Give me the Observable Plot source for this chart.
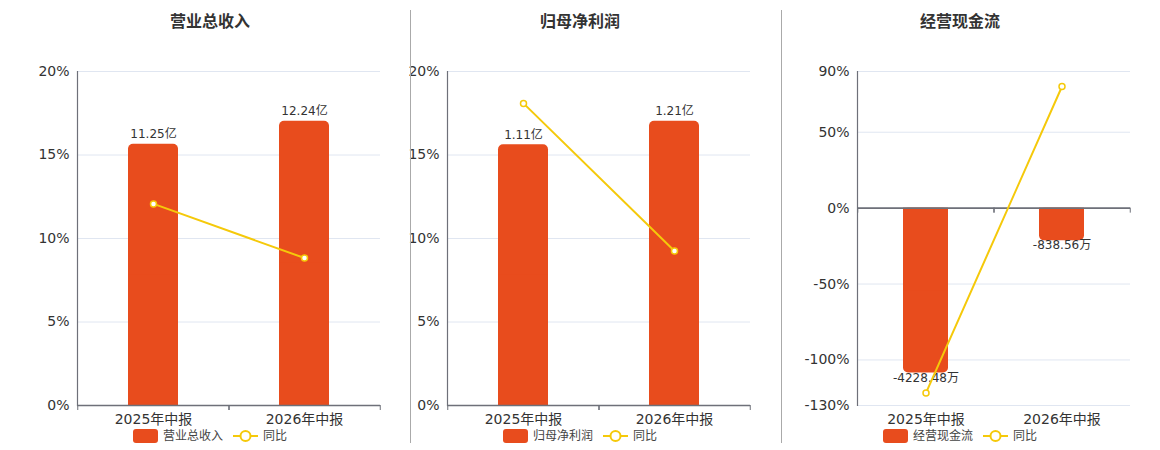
<!DOCTYPE html>
<html>
<head>
<meta charset="utf-8">
<script src="https://cdn.jsdelivr.net/npm/d3@7"></script>
<script src="https://cdn.jsdelivr.net/npm/@observablehq/plot@0.6"></script>
<style>
  html, body { margin: 0; padding: 0; background: #fff; }
  #root { position: relative; width: 1160px; height: 450px; overflow: hidden;
          font-family: "DejaVu Sans", "Noto Sans CJK SC", sans-serif; }
  .title { position: absolute; top: 12px; text-align: center; font-size: 16px; font-weight: bold;
           color: #333; line-height: 20px; }
  .legend { position: absolute; top: 428px; display: flex; justify-content: center; align-items: center;
            font-size: 12px; color: #444; line-height: 16px; }
  .legend .item { display: flex; align-items: center; margin: 0 5px; }
  .legend .sw { width: 25px; height: 14px; border-radius: 3px; margin-right: 5px; }
  .legend svg { margin-right: 5px; }
  .sep { position: absolute; top: 10px; width: 1px; height: 433px; background: #aaa; }
  .panel-svg { position: absolute; top: 40px; }
</style>
</head>
<body>
<div id="root"></div>
<script>
// ---- data ----
const periods = ["2025年中报", "2026年中报"];
const titles = ["营业总收入", "归母净利润", "经营现金流"];
const revenue = [11.25, 12.24];          // 亿
const netProfit = [1.11, 1.21];          // 亿
const cashFlow = [-4228.48, -838.56];    // 万
const revenueYoy = [12.07, 8.83];        // %
const netProfitYoy = [18.09, 9.25];      // %
const cashFlowYoy = [-121.7, 80.1];      // %
const units = ["亿", "亿", "万"];
// left (同比) axis
const pctDomains = [[0, 20], [0, 20], [-130, 90]];
const pctTicks = [[0, 5, 10, 15, 20], [0, 5, 10, 15, 20], [-130, -100, -50, 0, 50, 90]];
// hidden secondary (bar value) axis domains
const barDomains = [[0, 14.38], [0, 1.422], [-5062, 3506]];

const BAR = "#e84c1d";
const GOLD = "#f5c90a";
const FONT = '"DejaVu Sans", "Noto Sans CJK SC", sans-serif';

const panels = [
  {bars: revenue, yoy: revenueYoy, left: 0, width: 390, boxLeft: 0, boxWidth: 420},
  {bars: netProfit, yoy: netProfitYoy, left: 370, width: 390, boxLeft: 400, boxWidth: 360},
  {bars: cashFlow, yoy: cashFlowYoy, left: 780, width: 360, boxLeft: 781, boxWidth: 358}
];

const root = document.getElementById("root");

panels.forEach((p, k) => {
  const dom = pctDomains[k], bdom = barDomains[k];
  const toPct = v => dom[0] + (v - bdom[0]) / (bdom[1] - bdom[0]) * (dom[1] - dom[0]);
  const data = periods.map((per, i) => ({
    period: per,
    value: p.bars[i],
    pct: toPct(p.bars[i]),
    yoy: p.yoy[i],
    label: p.bars[i].toFixed(2) + units[k]
  }));
  const mL = 77, mR = 10, mT = 31, mB = 30, H = 395;
  const innerW = p.width - mL - mR;
  const step = innerW / periods.length;
  const tickLen = (dom[1] - dom[0]) * 5 / (H - mT - mB);
  const fmt = d => d + "%";

  const chart = Plot.plot({
    width: p.width, height: H,
    marginLeft: mL, marginRight: mR, marginTop: mT, marginBottom: mB,
    style: {background: "transparent", fontFamily: FONT, fontSize: "14px", color: "#333", overflow: "visible"},
    x: {domain: periods, paddingInner: 0.67, paddingOuter: 0.335, label: null},
    y: {domain: dom, label: null},
    marks: [
      Plot.gridY(pctTicks[k], {stroke: "#e0e6f1", strokeOpacity: 1}),
      Plot.barY(data, {x: "period", y1: 0, y2: "pct", fill: BAR, rx: 5}),
      Plot.barY(data, {x: "period", y1: 0, y2: d => d.pct / 2, fill: BAR}),
      Plot.axisY({ticks: pctTicks[k], tickSize: 0, tickPadding: 8, tickFormat: fmt, fontSize: 14, fill: "#333", label: null}),
      Plot.axisX({tickSize: 0, tickPadding: 9, fontSize: 14, fill: "#333", label: null}),
      Plot.frame({anchor: "left", stroke: "#6e7079", strokeWidth: 1.2}),
      Plot.ruleY([0], {stroke: "#6e7079", strokeWidth: 1.6}),
      Plot.ruleX(periods, {x: d => d, y1: 0, y2: -tickLen, dx: -step / 2, stroke: "#6e7079"}),
      Plot.ruleX(periods, {x: d => d, y1: 0, y2: -tickLen, dx: step / 2, stroke: "#6e7079"}),
      Plot.text(data.filter(d => d.value >= 0), {x: "period", y: "pct", text: "label", lineAnchor: "bottom", dy: -6, fontSize: 12, fill: "#333"}),
      Plot.text(data.filter(d => d.value < 0), {x: "period", y: "pct", text: "label", lineAnchor: "top", dy: 0, fontSize: 12, fill: "#333"}),
      Plot.line(data, {x: "period", y: "yoy", stroke: GOLD, strokeWidth: 2}),
      Plot.dot(data, {x: "period", y: "yoy", r: 3, fill: "#fff", stroke: GOLD, strokeWidth: 1.5})
    ]
  });
  chart.classList.add("panel-svg");
  chart.style.left = p.left + "px";
  root.appendChild(chart);

  const t = document.createElement("div");
  t.className = "title";
  t.style.left = p.boxLeft + "px";
  t.style.width = p.boxWidth + "px";
  t.textContent = titles[k];
  root.appendChild(t);

  const lg = document.createElement("div");
  lg.className = "legend";
  lg.style.left = p.boxLeft + "px";
  lg.style.width = p.boxWidth + "px";
  lg.innerHTML =
    `<div class="item"><div class="sw" style="background:${BAR}"></div><span>${titles[k]}</span></div>` +
    `<div class="item"><svg width="25" height="14"><line x1="0" y1="7" x2="25" y2="7" stroke="${GOLD}" stroke-width="2"/>` +
    `<circle cx="12.5" cy="7" r="5" fill="#fff" stroke="${GOLD}" stroke-width="2"/></svg><span>同比</span></div>`;
  root.appendChild(lg);
});

[410, 781].forEach(x => {
  const s = document.createElement("div");
  s.className = "sep";
  s.style.left = x + "px";
  root.appendChild(s);
});
</script>
</body>
</html>
